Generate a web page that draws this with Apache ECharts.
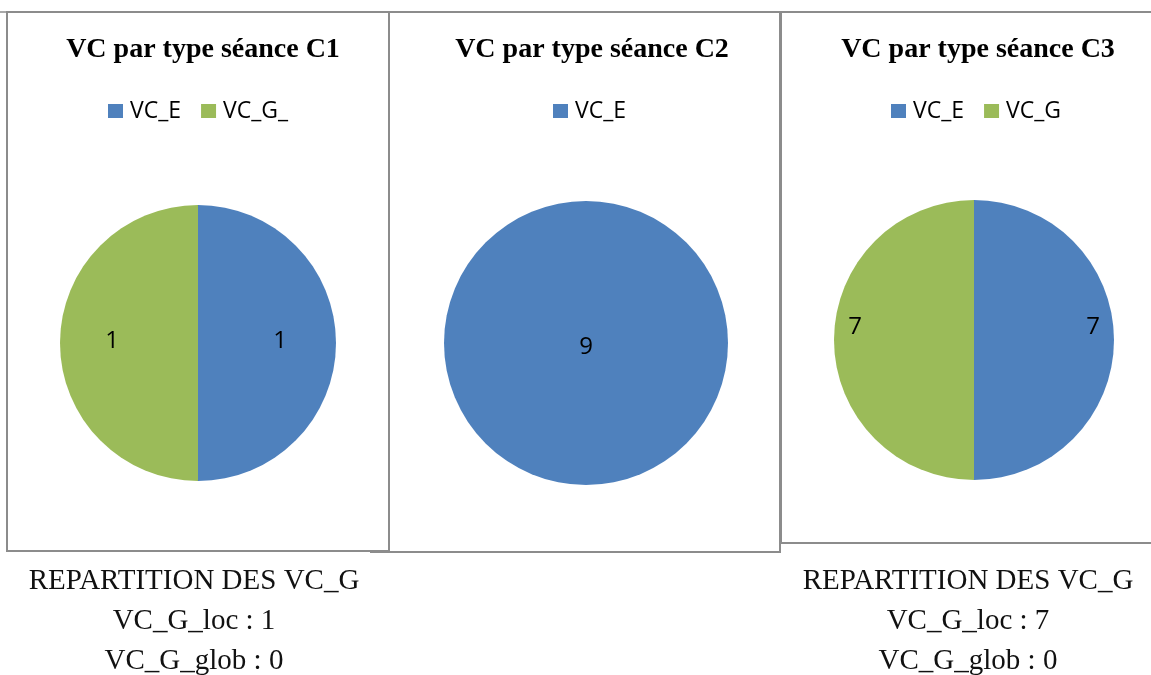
<!DOCTYPE html>
<html>
<head>
<meta charset="utf-8">
<script src="https://cdn.jsdelivr.net/npm/echarts@6/dist/echarts.min.js"></script>
<style>
html,body{margin:0;padding:0;background:#fff;overflow:hidden;}
#c{width:1151px;height:675px;}
</style>
</head>
<body>
<div id="c"></div>
<script>
// ---- data ----
const chartTitles = ['VC par type séance C1', 'VC par type séance C2', 'VC par type séance C3'];
const categoriesC1 = ['VC_E', 'VC_G_'];
const valuesC1 = [1, 1];
const categoriesC2 = ['VC_E'];
const valuesC2 = [9];
const categoriesC3 = ['VC_E', 'VC_G'];
const valuesC3 = [7, 7];
const notesC1 = ['REPARTITION DES VC_G', 'VC_G_loc : 1', 'VC_G_glob : 0'];
const notesC3 = ['REPARTITION DES VC_G', 'VC_G_loc : 7', 'VC_G_glob : 0'];

// ---- layout / style ----
const BLUE = '#4F81BD', GREEN = '#9BBB59';
const panels = [
  {cats: categoriesC1, vals: valuesC1, cx: 198, cy: 343, r: 138, titleX: 198, legendLeft: 108,
   labelPos: 'inside', offsets: [[10, -2], [-14, -2]]},
  {cats: categoriesC2, vals: valuesC2, cx: 586, cy: 343, r: 142, titleX: 587, legendLeft: 553,
   labelPos: 'center', offsets: [[0, 4]]},
  {cats: categoriesC3, vals: valuesC3, cx: 974, cy: 340, r: 140, titleX: 973, legendLeft: 891,
   labelPos: 'inside', offsets: [[46, -13], [-46, -13]]}
];
const labelFont = {fontFamily: 'Open Sans', fontSize: 24, color: '#000'};

const chart = echarts.init(document.getElementById('c'), null, {renderer: 'canvas'});

const titles = panels.map((p, i) => ({
  text: chartTitles[i], left: p.titleX, top: 28, textAlign: 'center',
  textStyle: {fontFamily: 'Liberation Serif', fontWeight: 'bold', fontSize: 28, color: '#000', lineHeight: 34}
}));
[[notesC1, 189], [notesC3, 963]].forEach(([lines, x]) => {
  titles.push({
    text: lines.join('\n'), left: x, top: 556, textAlign: 'center',
    textStyle: {fontFamily: 'Liberation Serif', fontWeight: 'normal', fontSize: 29, color: '#111', lineHeight: 40}
  });
});

const legends = panels.map(p => ({
  data: p.cats, left: p.legendLeft, top: 94, orient: 'horizontal', padding: [5, 5, 5, 0],
  itemWidth: 15, itemHeight: 14, itemGap: 20, icon: 'rect', selectedMode: false,
  textStyle: {fontFamily: 'Open Sans', fontSize: 23, color: '#000', lineHeight: 24, padding: [0, 0, 0, 2]}
}));

const series = panels.map(p => ({
  type: 'pie', center: [p.cx, p.cy], radius: [0, p.r], startAngle: 90, clockwise: true,
  avoidLabelOverlap: false, animation: false, silent: true,
  label: {show: true, position: p.labelPos, formatter: '{c}', ...labelFont},
  labelLine: {show: false},
  itemStyle: {borderWidth: 0},
  emphasis: {disabled: true},
  data: p.cats.map((name, j) => ({
    name: name, value: p.vals[j],
    itemStyle: {color: name === 'VC_E' ? BLUE : GREEN},
    label: {offset: p.offsets[j]}
  }))
}));

const borderStyle = {stroke: '#8c8c8c', fill: 'none', lineWidth: 2};
const graphic = [
  {type: 'line', shape: {x1: 0, y1: 12, x2: 1151, y2: 12}, style: {stroke: '#8c8c8c', lineWidth: 1.5}, silent: true},
  {type: 'rect', shape: {x: 7, y: 12, width: 382, height: 539}, style: borderStyle, silent: true},
  {type: 'rect', shape: {x: 389, y: 12, width: 391, height: 540}, style: borderStyle, silent: true},
  {type: 'line', shape: {x1: 370, y1: 552, x2: 780, y2: 552}, style: {stroke: '#8c8c8c', lineWidth: 2}, silent: true},
  {type: 'rect', shape: {x: 781, y: 12, width: 400, height: 531}, style: borderStyle, silent: true}
];

chart.setOption({
  backgroundColor: '#fff',
  animation: false,
  title: titles,
  legend: legends,
  series: series,
  graphic: graphic
});
</script>
</body>
</html>
